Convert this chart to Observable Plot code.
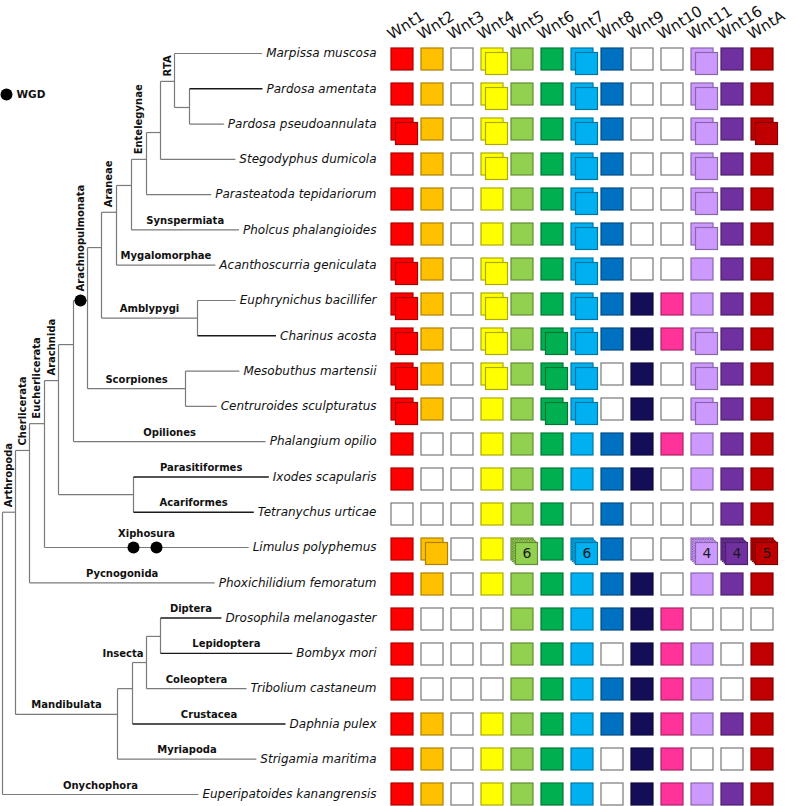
<!DOCTYPE html>
<html><head><meta charset="utf-8">
<script src="https://cdn.jsdelivr.net/npm/d3@7"></script>
<script src="https://cdn.jsdelivr.net/npm/@observablehq/plot@0.6"></script>
<style>
body{margin:0;background:#fff;}
#chart{position:relative;width:796px;height:806px;overflow:hidden;background:#fff;}
#chart svg{position:absolute;left:0;top:0;}
</style></head><body><div id="chart"></div>
<script>
// ---------------- DATA ----------------
const species = ["Marpissa muscosa","Pardosa amentata","Pardosa pseudoannulata","Stegodyphus dumicola","Parasteatoda tepidariorum","Pholcus phalangioides","Acanthoscurria geniculata","Euphrynichus bacillifer","Charinus acosta","Mesobuthus martensii","Centruroides sculpturatus","Phalangium opilio","Ixodes scapularis","Tetranychus urticae","Limulus polyphemus","Phoxichilidium femoratum","Drosophila melanogaster","Bombyx mori","Tribolium castaneum","Daphnia pulex","Strigamia maritima","Euperipatoides kanangrensis"];

const genes = ["Wnt1","Wnt2","Wnt3","Wnt4","Wnt5","Wnt6","Wnt7","Wnt8","Wnt9","Wnt10","Wnt11","Wnt16","WntA"];
const geneColors = ["#FF0000","#FFC000","#FFFFFF","#FFFF00","#92D050","#00B050","#00B0F0","#0070C0","#140D58","#FF3399","#CC99FF","#7030A0","#C00000"];

// number of copies of each Wnt gene per species (0 = absent)
const copies = [
  [1,1,0,2,1,1,2,1,0,0,2,1,1],
  [1,1,0,2,1,1,2,1,0,0,2,1,1],
  [2,1,0,2,1,1,2,1,0,0,2,1,2],
  [1,1,0,2,1,1,2,1,0,0,2,1,1],
  [1,1,0,1,1,1,2,1,0,0,2,1,1],
  [1,1,0,1,1,1,2,1,0,0,2,1,1],
  [2,1,0,2,1,1,2,1,0,0,1,1,1],
  [2,1,0,2,1,1,2,1,1,1,1,1,1],
  [2,1,0,2,1,2,2,1,1,1,2,1,1],
  [2,1,0,2,1,2,2,0,1,0,2,1,1],
  [2,1,0,1,1,2,2,0,1,0,2,1,1],
  [1,0,0,1,1,1,1,1,1,1,1,1,1],
  [1,0,0,1,1,1,1,1,1,0,1,1,1],
  [0,0,0,1,1,1,0,1,0,0,0,1,1],
  [1,2,0,1,6,1,6,1,0,0,4,4,5],
  [1,1,0,1,1,1,1,1,1,0,1,1,1],
  [1,0,0,0,1,1,1,1,1,1,0,0,0],
  [1,0,0,0,1,1,1,0,1,1,1,0,1],
  [1,0,0,0,1,1,1,1,1,1,1,0,1],
  [1,1,0,1,1,1,1,1,1,1,1,1,1],
  [1,1,0,1,1,1,1,0,1,1,0,0,1],
  [1,1,0,1,1,1,1,0,1,1,1,1,1]
];

// internal tree nodes: depth (branch position) and row position (in species-row units)
const nodeIds    = ["root","Arthropoda","Cherlicerata","Eucherlicerata","Arachnida","ArachOp","Arachnopulmonata","AraAmb","Araneae","Araneomorphae","Entelegynae","EntInner","RTA","Pardosa","Amblypygi","Scorpiones","Acari","Mandibulata","Pancrustacea","Insecta","DipLep"];
const nodeParents= [null,"root","Arthropoda","Cherlicerata","Eucherlicerata","Arachnida","ArachOp","Arachnopulmonata","AraAmb","Araneae","Araneomorphae","Entelegynae","EntInner","RTA","AraAmb","Arachnopulmonata","Arachnida","Arthropoda","Mandibulata","Pancrustacea","Insecta"];
const nodeDepths = [2,15,29,44,58,73,87,101,116,131,146,160,174,189,197,185,133,117,132,146,160];
const nodeRows   = [15,13.0,11.25,10.49,9.27,8.25,7.0,5.5,4.5,3.74,3.0,2.24,0.79,1.53,7.5,9.5,12.5,18.73,18.0,17.26,16.52];

// parent node of each species (leaf)
const leafParents = ["RTA","Pardosa","Pardosa","EntInner","Entelegynae","Araneomorphae","Araneae","Amblypygi","Amblypygi","Scorpiones","Scorpiones","ArachOp","Acari","Acari","Eucherlicerata","Cherlicerata","DipLep","DipLep","Insecta","Pancrustacea","Mandibulata","root"];
const darkLeaves = ["Pardosa amentata","Charinus acosta","Ixodes scapularis","Tetranychus urticae","Drosophila melanogaster","Bombyx mori","Daphnia pulex"];

// clade labels: text, branch it sits on, placement
const labelTexts = ["Arthropoda","Cherlicerata","Eucherlicerata","Arachnida","Arachnopulmonata","Araneae","Entelegynae","RTA","Synspermiata","Mygalomorphae","Amblypygi","Scorpiones","Opiliones","Parasitiformes","Acariformes","Xiphosura","Pycnogonida","Diptera","Lepidoptera","Insecta","Coleoptera","Crustacea","Myriapoda","Mandibulata","Onychophora"];
const labelOn = ["Arthropoda","Cherlicerata","Eucherlicerata","Arachnida","Arachnopulmonata","Araneae","Entelegynae","RTA","Pholcus phalangioides","Acanthoscurria geniculata","Amblypygi","Scorpiones","Phalangium opilio","Ixodes scapularis","Tetranychus urticae","Limulus polyphemus","Phoxichilidium femoratum","Drosophila melanogaster","Bombyx mori","Insecta","Tribolium castaneum","Daphnia pulex","Strigamia maritima","Mandibulata","Euperipatoides kanangrensis"];
const labelPlace = ["vertical","vertical","vertical","vertical","vertical","vertical","vertical","vertical","above","above","above","above","above","above","above","above","above","above","above","left","above","above","above","above","above"];

// whole genome duplication events: branch and depth
const wgdOn = ["Arachnopulmonata","Limulus polyphemus","Limulus polyphemus"];
const wgdDepth = [80,133,156];

// ---------------- LAYOUT ----------------
const W = 796, H = 806;
const FONT = "'DejaVu Sans', Verdana, sans-serif";
const nameRight = 376;
const nameSize = 12;

const ctx = document.createElement("canvas").getContext("2d");
ctx.font = `italic ${nameSize}px 'DejaVu Sans'`;

// build tree
const nodes = new Map();
nodeIds.forEach((id, i) => nodes.set(id, {id, parent: nodeParents[i], depth: nodeDepths[i], end: nodeDepths[i], row: nodeRows[i], leaf: false, children: []}));
species.forEach((s, i) => {
  const w = ctx.measureText(s).width;
  nodes.set(s, {id: s, parent: leafParents[i], depth: null, end: nameRight - w - 4, row: i, leaf: true, children: []});
});
for (const n of nodes.values()) if (n.parent) nodes.get(n.parent).children.push(n);

const segments = [];
for (const n of nodes.values()) {
  if (n.parent) {
    const p = nodes.get(n.parent);
    segments.push({x1: p.depth, x2: n.end, y1: n.row, y2: n.row, dark: darkLeaves.includes(n.id)});
  }
  if (!n.leaf) {
    const rows = n.children.map(c => c.row);
    segments.push({x1: n.depth, x2: n.depth, y1: d3.min(rows), y2: d3.max(rows), dark: false});
  }
}

const wgd = wgdOn.map((on, i) => ({depth: wgdDepth[i], row: nodes.get(on).row, on}));

const labels = labelTexts.map((t, i) => {
  const n = nodes.get(labelOn[i]);
  const p = nodes.get(n.parent);
  const place = labelPlace[i];
  let x = (p.depth + n.end) / 2;
  if (place === "left") x = n.depth - 3;
  return {text: t, x, row: n.row, place, wgd: wgdOn.includes(labelOn[i])};
});

const boldStyle = {fontWeight: "bold", fontSize: 10, fill: "#111"};

const tree = Plot.plot({
  width: W, height: H, margin: 0,
  x: {type: "linear", domain: [0, W], range: [0, W], axis: null},
  y: {type: "linear", domain: [0, species.length - 1], range: [53, 794], axis: null},
  style: {background: "transparent", fontFamily: FONT, overflow: "visible"},
  marks: [
    Plot.link(segments.filter(d => !d.dark), {x1: "x1", x2: "x2", y1: "y1", y2: "y2", stroke: "#7a7a7a", strokeWidth: 1.2}),
    Plot.link(segments.filter(d => d.dark), {x1: "x1", x2: "x2", y1: "y1", y2: "y2", stroke: "#1a1a1a", strokeWidth: 1.4}),
    Plot.dot(wgd, {x: "depth", y: "row", r: 6, fill: "black"}),
    Plot.text(species, {x: () => nameRight, y: (d, i) => i, text: d => d, textAnchor: "end", lineAnchor: "middle", fontStyle: "italic", fontSize: nameSize, fill: "#111"}),
    Plot.text(labels.filter(d => d.place === "vertical" && !d.wgd), {x: "x", y: "row", text: "text", rotate: -90, textAnchor: "start", lineAnchor: "middle", dy: -5, ...boldStyle}),
    Plot.text(labels.filter(d => d.place === "vertical" && d.wgd), {x: "x", y: "row", text: "text", rotate: -90, textAnchor: "start", lineAnchor: "middle", dy: -9, ...boldStyle}),
    Plot.text(labels.filter(d => d.place === "above" && !d.wgd), {x: "x", y: "row", text: "text", textAnchor: "middle", lineAnchor: "bottom", dy: -6, ...boldStyle}),
    Plot.text(labels.filter(d => d.place === "above" && d.wgd), {x: "x", y: "row", text: "text", textAnchor: "middle", lineAnchor: "bottom", dy: -11, ...boldStyle}),
    Plot.text(labels.filter(d => d.place === "left"), {x: "x", y: "row", text: "text", textAnchor: "end", lineAnchor: "bottom", dy: -6, ...boldStyle}),
    // WGD legend
    Plot.dot([0], {frameAnchor: "top-left", dx: 6, dy: 94, r: 6, fill: "black"}),
    Plot.text(["WGD"], {frameAnchor: "top-left", dx: 16, dy: 94, textAnchor: "start", lineAnchor: "middle", fontWeight: "bold", fontSize: 10.5, fill: "#111"})
  ]
});

// ---------------- GRID ----------------
const cells = [];
species.forEach((s, i) => genes.forEach((g, j) => {
  const n = copies[i][j];
  const fill = n > 0 ? geneColors[j] : "#FFFFFF";
  const stroke = n > 0 && geneColors[j] !== "#FFFFFF" ? d3.color(fill).darker(1.1).formatHex() : "#787878";
  cells.push({species: s, gene: g, n, fill, stroke});
}));

const colStep = 30.67, colFirst = 398, sq = 22;
const rowStep = 35.0, rowFirst = 58.7;
const xPi = 1 - sq / colStep, yPi = 1 - sq / rowStep;
const xRange = [colFirst - colStep / 2, colFirst - colStep / 2 + colStep * genes.length];
const yRange = [rowFirst - rowStep / 2, rowFirst - rowStep / 2 + rowStep * species.length];

const cellOpts = {x: "gene", y: "species", fill: "fill", stroke: "stroke", strokeWidth: 1.2};
const grid = Plot.plot({
  width: W, height: H, margin: 0,
  x: {type: "band", domain: genes, range: xRange, paddingInner: xPi, paddingOuter: xPi / 2, axis: null},
  y: {type: "band", domain: species, range: yRange, paddingInner: yPi, paddingOuter: yPi / 2, axis: null},
  color: {type: "identity"},
  style: {background: "transparent", fontFamily: FONT, overflow: "visible"},
  marks: [
    Plot.cell(cells, cellOpts),
    Plot.cell(cells.filter(d => d.n >= 4), {...cellOpts, dx: 1.5, dy: 1.5, strokeDasharray: "1.5,1"}),
    Plot.cell(cells.filter(d => d.n >= 4), {...cellOpts, dx: 3, dy: 3, strokeDasharray: "1.5,1"}),
    Plot.cell(cells.filter(d => d.n >= 2), {...cellOpts, dx: 4.5, dy: 4.5}),
    Plot.text(cells.filter(d => d.n >= 4), {x: "gene", y: "species", text: d => String(d.n), dx: 4.5, dy: 4.5, fontSize: 14, fill: "#1a1a1a", lineAnchor: "middle"}),
    Plot.text(genes, {x: d => d, text: d => d, frameAnchor: "top", dx: -11, dy: 39.5, rotate: -32, textAnchor: "start", lineAnchor: "bottom", fontSize: 15, fill: "#111"})
  ]
});

const chart = document.getElementById("chart");
chart.appendChild(tree);
chart.appendChild(grid);
</script>
</body></html>
